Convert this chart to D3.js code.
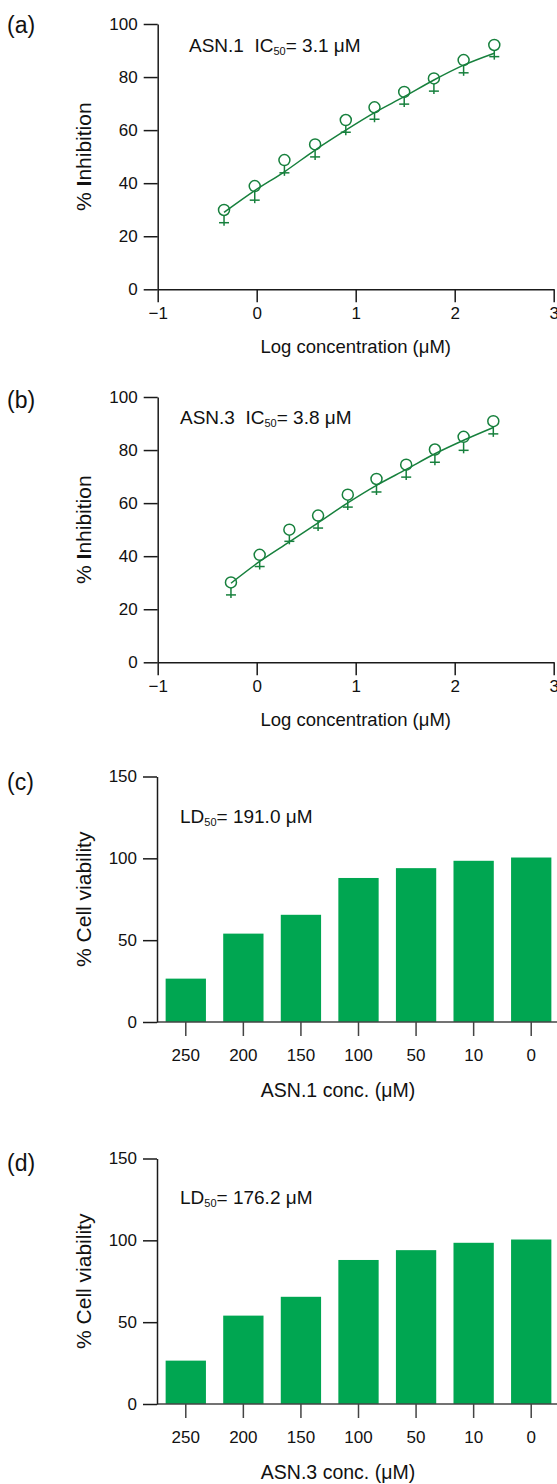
<!DOCTYPE html>
<html>
<head>
<meta charset="utf-8">
<script src="https://cdn.jsdelivr.net/npm/d3@7"></script>
<style>
  body { margin: 0; background: #fff; }
  svg { display: block; font-family: "Liberation Sans", Arial, sans-serif; }
</style>
</head>
<body>
<svg id="chart" width="557" height="1484"></svg>
<script>
const svg = d3.select("#chart");

// panel (a) ASN.1 dose response
const logConcA = [-0.33, -0.02, 0.28, 0.59, 0.90, 1.19, 1.49, 1.79, 2.09, 2.40];
const inhibA = [29.9, 38.9, 48.7, 54.6, 63.8, 68.6, 74.4, 79.5, 86.4, 92.1];
const errA = [4.8, 5.3, 4.8, 4.7, 4.6, 4.5, 4.6, 4.8, 4.8, 4.4];
const fitA = [29.0, 37.2, 44.3, 52.5, 60.0, 66.6, 72.6, 78.9, 84.5, 89.0];

// panel (b) ASN.3 dose response
const logConcB = [-0.26, 0.03, 0.33, 0.62, 0.92, 1.21, 1.51, 1.80, 2.09, 2.39];
const inhibB = [30.1, 40.5, 50.0, 55.3, 63.2, 69.1, 74.5, 80.2, 85.0, 90.9];
const errB = [4.7, 4.4, 4.4, 4.7, 4.7, 4.9, 4.7, 4.8, 5.1, 4.8];
const fitB = [29.8, 38.0, 45.4, 52.6, 60.1, 66.7, 72.7, 78.6, 83.7, 88.5];

// panels (c) and (d) cell viability
const concLabels = ["250", "200", "150", "100", "50", "10", "0"];
const viabC = [26.5, 54, 65.5, 88, 94, 98.5, 100.5];
const viabD = [26.5, 54, 65.5, 88, 94, 98.5, 100.5];

const xTicks = [-1, 0, 1, 2, 3];
const inhibTicks = [0, 20, 40, 60, 80, 100];
const viabTicks = [0, 50, 100, 150];

const lineGreen = "#17803d";
const barGreen = "#00a651";

function styleAxis(g, color) {
  g.attr("font-family", null);
  g.select(".domain").attr("stroke", color).attr("stroke-width", 1.5);
  g.selectAll(".tick line").attr("stroke", color).attr("stroke-width", 1.5);
  g.selectAll(".tick text").attr("fill", "#111").attr("font-size", "17px");
}

function panelLabel(txt, y) {
  svg.append("text").attr("x", 7).attr("y", y)
    .attr("font-size", "23px").attr("fill", "#111").text(txt);
}

function annotate(x, y, pre, sub, post) {
  const t = svg.append("text").attr("x", x).attr("y", y)
    .attr("font-size", "19px").attr("fill", "#111");
  t.append("tspan").text(pre);
  t.append("tspan").attr("font-size", "11px").attr("dy", 3).text(sub);
  t.append("tspan").attr("dy", -3).text(post);
}

function yTitle(y, parts) {
  const t = svg.append("text")
    .attr("transform", `translate(91,${y}) rotate(-90)`)
    .attr("text-anchor", "middle").attr("font-size", "21px").attr("fill", "#111");
  parts.forEach(p => t.append("tspan").attr("font-weight", p[1] ? "bold" : null).text(p[0]));
}

function dosePanel(top, xs, ys, errs, fit) {
  const x = d3.scaleLinear().domain([-1, 3]).range([157.7, 553.7]);
  const y = d3.scaleLinear().domain([0, 100]).range([top + 265.3, top]);

  const gx = svg.append("g").attr("transform", `translate(0,${y(0)})`)
    .call(d3.axisBottom(x).tickValues(xTicks).tickFormat(d3.format("d"))
      .tickSize(13).tickSizeOuter(0).tickPadding(5));
  styleAxis(gx, "#1a1a1a");
  const gy = svg.append("g").attr("transform", `translate(${x(-1)},0)`)
    .call(d3.axisLeft(y).tickValues(inhibTicks).tickSize(14).tickSizeOuter(0).tickPadding(6));
  styleAxis(gy, "#1a1a1a");

  const line = d3.line()
    .x((d, i) => x(xs[i]))
    .y(d => y(d))
    .curve(d3.curveMonotoneX);
  svg.append("path").datum(fit)
    .attr("d", line).attr("fill", "none")
    .attr("stroke", lineGreen).attr("stroke-width", 1.5);

  const pts = svg.append("g").selectAll("g")
    .data(ys).enter().append("g")
    .attr("transform", (d, i) => `translate(${x(xs[i])},${y(d)})`);
  pts.append("line")
    .attr("x1", 0).attr("x2", 0)
    .attr("y1", 5.5).attr("y2", (d, i) => y(d - errs[i]) - y(d) + 3)
    .attr("stroke", lineGreen).attr("stroke-width", 1.5);
  pts.append("line")
    .attr("x1", -5).attr("x2", 5)
    .attr("y1", (d, i) => y(d - errs[i]) - y(d))
    .attr("y2", (d, i) => y(d - errs[i]) - y(d))
    .attr("stroke", lineGreen).attr("stroke-width", 1.5);
  pts.append("circle").attr("r", 5.5)
    .attr("fill", "none").attr("stroke", lineGreen).attr("stroke-width", 1.5);

  svg.append("text").attr("x", x(1)).attr("y", y(0) + 63.5)
    .attr("text-anchor", "middle").attr("font-size", "18.5px").attr("fill", "#111")
    .text("Log concentration (\u03bcM)");
  yTitle((y(0) + y(100)) / 2, [["% ", false], ["I", true], ["nhibition", false]]);
}

function barPanel(top, vals, xTitle) {
  const x = d3.scaleBand().domain(concLabels).range([157, 560]).paddingInner(0.3).paddingOuter(0.15);
  const y = d3.scaleLinear().domain([0, 150]).range([top + 245.5, top]);

  svg.append("g").selectAll("rect")
    .data(vals).enter().append("rect")
    .attr("x", (d, i) => x(concLabels[i]))
    .attr("y", d => y(d))
    .attr("width", x.bandwidth())
    .attr("height", d => y(0) - y(d))
    .attr("fill", barGreen);

  const gx = svg.append("g").attr("transform", `translate(0,${y(0)})`)
    .call(d3.axisBottom(x).tickSize(14).tickSizeOuter(0).tickPadding(13));
  styleAxis(gx, "#444");
  gx.select(".domain").attr("d", "M157,0H557");
  const gy = svg.append("g").attr("transform", "translate(157,0)")
    .call(d3.axisLeft(y).tickValues(viabTicks).tickSize(14).tickSizeOuter(0).tickPadding(6));
  styleAxis(gy, "#1a1a1a");

  svg.append("text").attr("x", 338).attr("y", y(0) + 75)
    .attr("text-anchor", "middle").attr("font-size", "19.5px").attr("fill", "#111")
    .text(xTitle);
  yTitle((y(0) + y(150)) / 2, [["% Cell viability", false]]);
}

dosePanel(24, logConcA, inhibA, errA, fitA);
panelLabel("(a)", 33);
annotate(189, 52, "ASN.1\u00a0\u00a0IC", "50", "= 3.1 \u03bcM");

dosePanel(397, logConcB, inhibB, errB, fitB);
panelLabel("(b)", 408);
annotate(180, 424, "ASN.3\u00a0\u00a0IC", "50", "= 3.8 \u03bcM");

barPanel(776.5, viabC, "ASN.1 conc. (\u03bcM)");
panelLabel("(c)", 790);
annotate(180, 823, "LD", "50", "= 191.0 \u03bcM");

barPanel(1158.5, viabD, "ASN.3 conc. (\u03bcM)");
panelLabel("(d)", 1171);
annotate(180, 1204, "LD", "50", "= 176.2 \u03bcM");
</script>
</body>
</html>
